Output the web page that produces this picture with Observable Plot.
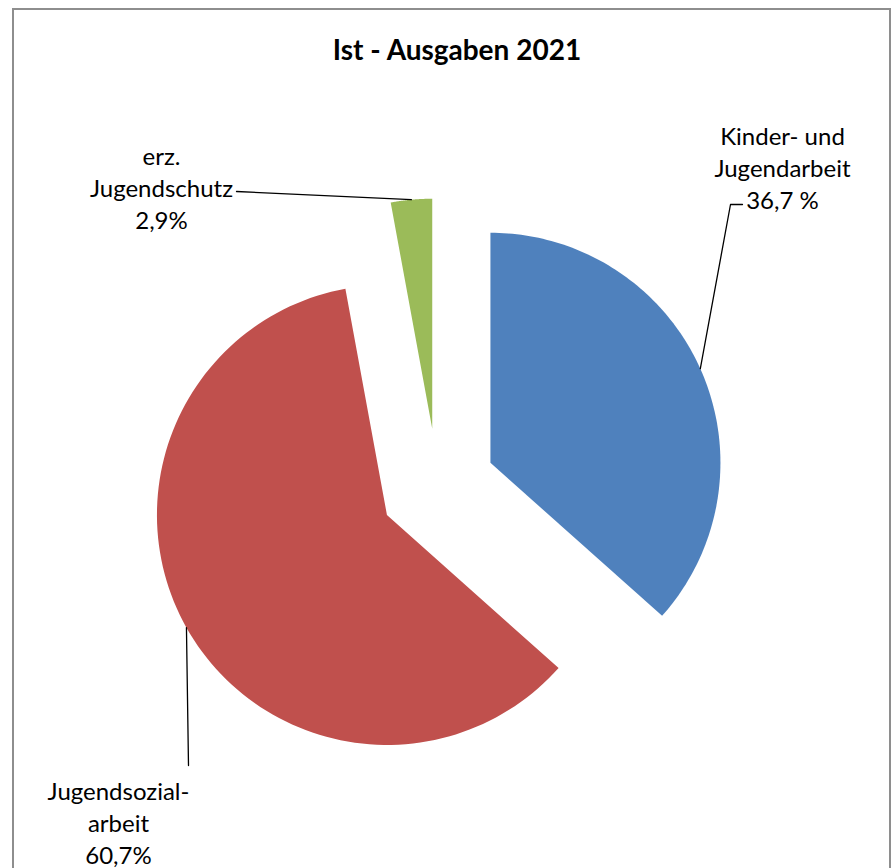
<!DOCTYPE html>
<html><head><meta charset="utf-8">
<script src="https://cdn.jsdelivr.net/npm/d3@7"></script>
<script src="https://cdn.jsdelivr.net/npm/@observablehq/plot@0.6"></script>
<style>
body{margin:0;background:#fff;}
#wrap{position:relative;width:892px;height:868px;overflow:hidden;background:#fff;}
#frame{position:absolute;left:12px;top:8px;width:879px;height:900px;border:2px solid #8e8e8e;box-sizing:border-box;background:#fff;}
#title{position:absolute;left:0;width:914px;top:32px;text-align:center;font:bold 28px Lato, sans-serif;color:#000;}
#chart{position:absolute;left:0;top:0;}
</style></head><body>
<div id="wrap"><div id="frame"></div><div id="chart"></div><div id="title">Ist - Ausgaben 2021</div></div>
<script>
// ---- data ----
const categories = ["Kinder- und Jugendarbeit", "Jugendsozialarbeit", "erz. Jugendschutz"];
const shares = [36.7, 60.7, 2.9];
const labelTexts = ["Kinder- und\nJugendarbeit\n36,7 %", "Jugendsozial-\narbeit\n60,7%", "erz.\nJugendschutz\n2,9%"];
const colors = ["#4F81BD", "#C0504D", "#9BBB59"];

// ---- layout (pixels) ----
const W = 892, H = 868;
const CX = 437, CY = 486, R = 230, EXPLODE = 58;
const labelLayout = {
  "Kinder- und Jugendarbeit": {text: [782, 166], leader: [[730, 204], [742, 204]]},
  "Jugendsozialarbeit": {text: [118, 821], leader: [[188, 765]]},
  "erz. Jugendschutz": {text: [161, 186], leader: [[236, 191]]}
};

const rows = categories.map((name, i) => ({name, share: shares[i], label: labelTexts[i]}));
const arcs = d3.pie().sort(null).value(d => d.share)(rows);

const polys = [], leaders = [], texts = [];
for (const a of arcs) {
  const mid = (a.startAngle + a.endAngle) / 2;
  const ox = CX + EXPLODE * Math.sin(mid), oy = CY - EXPLODE * Math.cos(mid);
  const name = a.data.name;
  polys.push({name, x: ox, y: oy});
  const n = 120;
  for (let k = 0; k <= n; k++) {
    const t = a.startAngle + (a.endAngle - a.startAngle) * k / n;
    polys.push({name, x: ox + R * Math.sin(t), y: oy - R * Math.cos(t)});
  }
  polys.push({name, x: ox, y: oy});
  const L = labelLayout[name];
  leaders.push({name, x: ox + R * Math.sin(mid), y: oy - R * Math.cos(mid)});
  for (const p of L.leader) leaders.push({name, x: p[0], y: p[1]});
  texts.push({name, x: L.text[0], y: L.text[1], label: a.data.label});
}

const chart = Plot.plot({
  width: W, height: H,
  margin: 0,
  x: {domain: [0, W], range: [0, W], axis: null},
  y: {domain: [0, H], range: [0, H], axis: null},
  color: {domain: categories, range: colors},
  style: {background: "transparent", fontFamily: "Lato, sans-serif"},
  marks: [
    Plot.line(polys, {x: "x", y: "y", z: "name", fill: "name", stroke: null, curve: "linear"}),
    Plot.line(leaders, {x: "x", y: "y", z: "name", stroke: "#000", strokeWidth: 1.3, curve: "linear"}),
    Plot.text(texts, {x: "x", y: "y", text: "label", fontSize: 24, lineHeight: 1.333, textAnchor: "middle", lineAnchor: "middle", fill: "#000"})
  ]
});
document.getElementById("chart").appendChild(chart);
</script>
</body></html>
